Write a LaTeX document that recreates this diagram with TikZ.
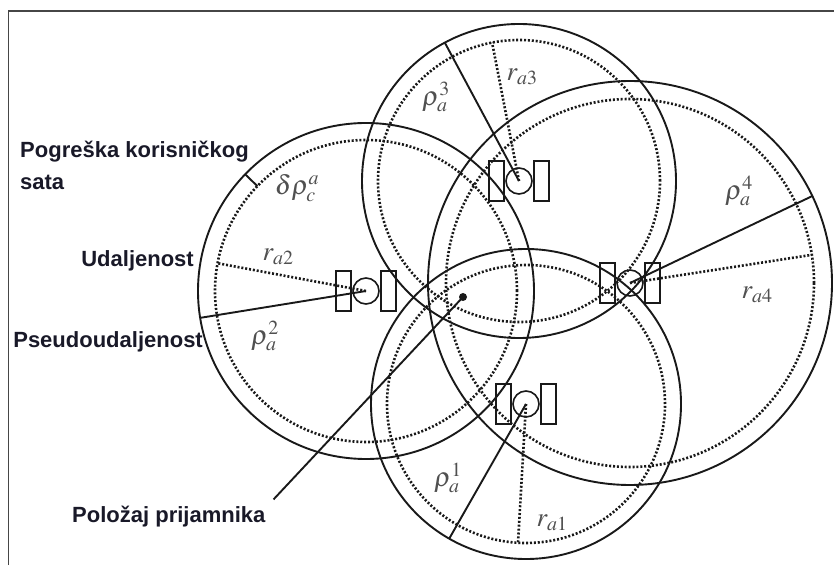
\documentclass[tikz,border=0pt]{standalone}
\usepackage{mathptmx}
\usepackage{fontspec}
\setsansfont{Liberation Sans}
\usepackage{tikz}

\definecolor{linija}{RGB}{25,25,25}
\definecolor{okvir}{RGB}{70,70,70}
\definecolor{oznaka}{RGB}{80,80,80}
\definecolor{tekst}{RGB}{25,25,40}

\tikzset{
  vanjska/.style={draw=linija, line width=1.9pt},
  tockasta/.style={draw=linija, line width=2.6pt, dash pattern=on 2pt off 1.9pt},
  uredaj/.style={draw=linija, line width=1.6pt},
  opis/.style={font=\sffamily\bfseries\fontsize{22}{32}\selectfont, text=tekst, inner sep=0pt},
  simbol/.style={font=\fontsize{27}{30}\selectfont, text=oznaka, inner sep=0pt},
}

\begin{document}
\begin{tikzpicture}[x=1pt, y=1pt]
        \useasboundingbox (0,0) rectangle (834,565);
        % Okvir
        \draw[line width=1.6pt, draw=okvir] (8.5,0) -- (8.5,554) -- (834,554);

        % Sateliti
        \coordinate (s1) at (526,161);
        \coordinate (s2) at (366,274);
        \coordinate (s3) at (519,384);
        \coordinate (s4) at (630,282);

        % Kruznice i sateliti
        \foreach \s/\R/\r in {s1/155/139, s2/168/151, s3/157/141, s4/202/184} {
            \draw[vanjska] (\s) circle (\R);
            \draw[tockasta] (\s) circle (\r);
            \draw[uredaj] ([shift={(-30,-20)}]\s) rectangle ++(15,40);
            \draw[uredaj] ([shift={(15,-20)}]\s) rectangle ++(15,40);
            \draw[uredaj] (\s) circle (13);
        }

        % Udaljenosti i pseudoudaljenosti
        \draw[tockasta] (s1) -- ++(266.7:139);
        \draw[vanjska] (s1) -- ++(240.3:155);
        \draw[tockasta] (s2) -- ++(169.4:151);
        \draw[vanjska] (s2) -- ++(189.2:168);
        \draw[vanjska] (s2) ++(136:151) -- ++(136:17);
        \draw[tockasta] (s3) -- ++(101:141);
        \draw[vanjska] (s3) -- ++(118.2:157);
        \draw[tockasta] (s4) -- ++(8.8:184);
        \draw[vanjska] (s4) -- ++(25.5:202);

        % Prijamnik
        \node[circle, fill=linija, inner sep=0pt, minimum size=8pt] (prijamnik) at (463,268) {};

        % Oznake
        \node[simbol] (rho1) at (448,87) {$\rho_a^1$};
        \node[simbol] (r1) at (552,42) {$r_{a1}$};
        \node[simbol] (rho2) at (265,229) {$\rho_a^2$};
        \node[simbol] (r2) at (278,308) {$r_{a2}$};
        \node[simbol] (drho) at (297,377) {$\delta\rho_c^a$};
        \node[simbol] (rho3) at (436,468) {$\rho_a^3$};
        \node[simbol] (r3) at (522,488) {$r_{a3}$};
        \node[simbol] (rho4) at (739,374) {$\rho_a^4$};
        \node[simbol] (r4) at (757,270) {$r_{a4}$};

        % Opisi
        \node[opis, anchor=base west, align=left] (pogreska) at (20,375) {Pogreška korisničkog\\sata};
        \node[opis, anchor=base east] (udaljenost) at (194,298) {Udaljenost};
        \node[opis, anchor=base east] (pseudo) at (203,218) {Pseudoudaljenost};
        \node[opis, anchor=base west] (polozaj) at (72,43) {Položaj prijamnika};
        \draw[vanjska] ([shift={(8,6)}]polozaj.north east) -- (prijamnik.center);
    \end{tikzpicture}
\end{document}
